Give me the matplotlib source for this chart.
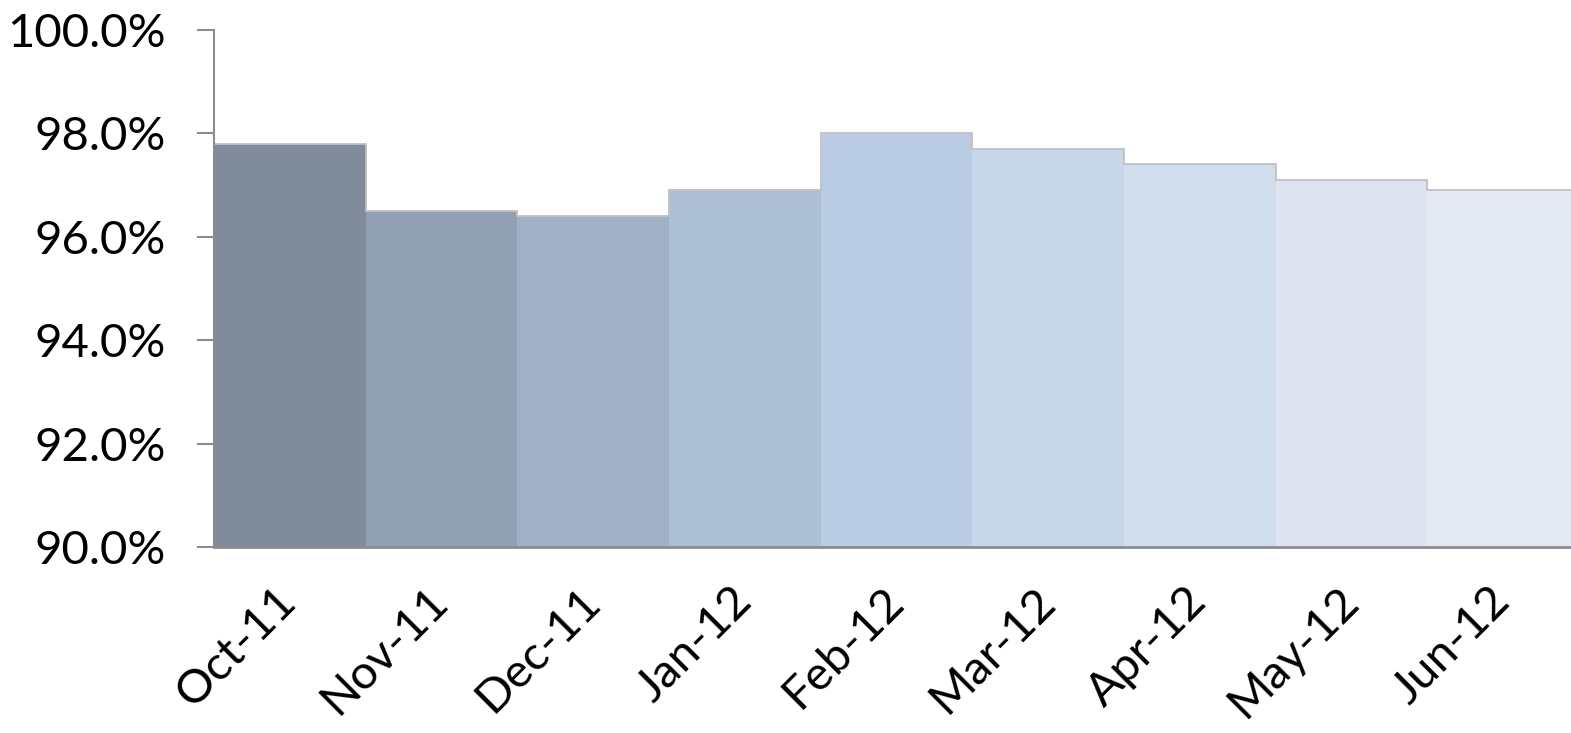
import matplotlib
matplotlib.use("Agg")
import matplotlib.pyplot as plt
import numpy as np
from matplotlib.ticker import FuncFormatter

months = ["Oct-11", "Nov-11", "Dec-11", "Jan-12", "Feb-12", "Mar-12", "Apr-12", "May-12", "Jun-12"]
values = [97.8, 96.5, 96.4, 96.9, 98.0, 97.7, 97.4, 97.1, 96.9]
colors = ["#808C9C", "#91A0B3", "#A0B0C7", "#ADBFD5", "#B9CCE4", "#C7D6E9", "#D0DDED", "#DDE3F0", "#E4EAF4"]

plt.rcParams['font.family'] = ['Lato', 'DejaVu Sans']

fig = plt.figure(figsize=(15.71, 7.33), dpi=100)
ax = fig.add_axes([214/1571, 186/733, 1365/1571, 517/733])

x = np.arange(len(months))
ax.bar(x, values, width=1.0, align='edge', color=colors, edgecolor='none', bottom=0)
ax.stairs(values, np.arange(len(months) + 1), baseline=None, color='#C0C0C0', linewidth=1.3)

ax.set_xlim(0, len(months))
ax.set_ylim(90, 100)
ax.set_yticks(np.arange(90, 100.1, 2))
ax.yaxis.set_major_formatter(FuncFormatter(lambda v, p: f"{v:.1f}%"))
ax.set_xticks(x + 0.5)
ax.set_xticklabels(months, rotation=45, ha='right', va='center', rotation_mode='anchor')

for s in ['top', 'right']:
    ax.spines[s].set_visible(False)
ax.spines['left'].set_color('#8C8C8C')
ax.spines['left'].set_linewidth(1.5)
ax.spines['bottom'].set_color('#8C8C8C')
ax.spines['bottom'].set_linewidth(2)

ax.tick_params(axis='y', length=12.5, width=1.5, color='#8C8C8C', pad=22, labelsize=34, labelcolor='black')
ax.tick_params(axis='x', length=0, pad=34, labelsize=34, labelcolor='black')

fig.savefig("out.png", dpi=100)
